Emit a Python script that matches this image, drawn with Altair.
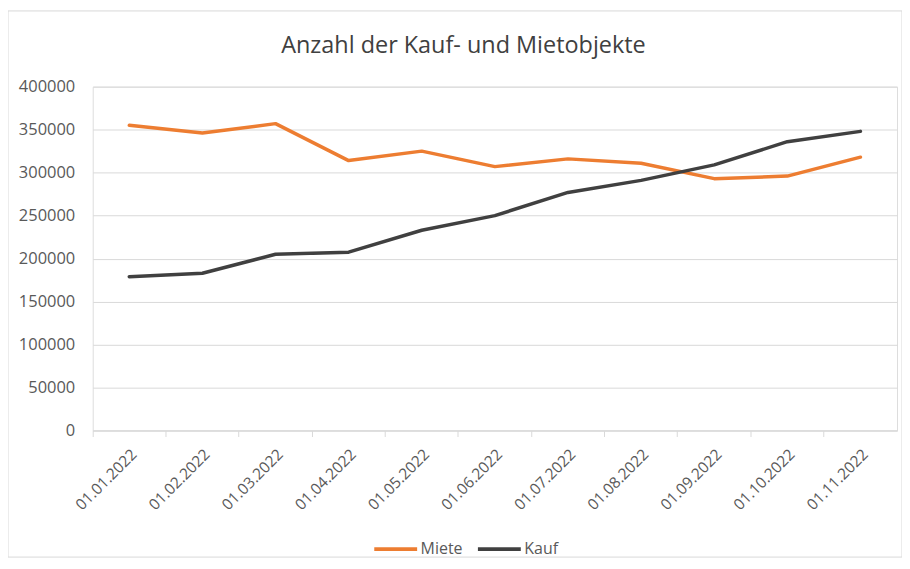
import altair as alt
import pandas as pd

dates = ["01.01.2022", "01.02.2022", "01.03.2022", "01.04.2022", "01.05.2022",
         "01.06.2022", "01.07.2022", "01.08.2022", "01.09.2022", "01.10.2022",
         "01.11.2022"]
miete = [355000, 346000, 357000, 314000, 325000, 307000, 316000, 311000, 293000, 296000, 318000]
kauf = [179000, 183000, 205000, 207500, 233000, 250000, 277000, 291000, 309000, 336000, 348000]
series = ["Miete", "Kauf"]
colors = ["#ED7D31", "#404040"]
title_text = "Anzahl der Kauf- und Mietobjekte"

rows = []
for s, vals in zip(series, [miete, kauf]):
    for d, v in zip(dates, vals):
        rows.append({"Datum": d, "Serie": s, "Wert": v})
df = pd.DataFrame(rows)

FONT = "Open Sans"
W, H = 807, 345

xscale = alt.Scale(type="band", paddingInner=0, paddingOuter=0)

frame = alt.Chart(pd.DataFrame({"a": [0]})).mark_rect(
    fill=None, stroke="#d9d9d9", strokeWidth=1
).encode(
    x=alt.value(-85), x2=alt.value(812), y=alt.value(-76), y2=alt.value(472)
)

title = alt.Chart(pd.DataFrame({"t": [title_text]})).mark_text(
    fontSize=23.5, font=FONT, color="#404040", align="center", baseline="middle"
).encode(text="t:N", x=alt.value(372), y=alt.value(-41))

ticks_layer = alt.Chart(df).mark_line(opacity=0).encode(
    x=alt.X("Datum:N", sort=dates, scale=xscale, bandPosition=0.5,
            axis=alt.Axis(title=None, labels=False, ticks=True, tickSize=6,
                          tickColor="#d9d9d9", domain=True, domainColor="#d9d9d9",
                          bandPosition=0, grid=False, orient="bottom")),
    y=alt.Y("Wert:Q"),
)

lines = alt.Chart(df).mark_line(strokeWidth=3.5, strokeCap="round", strokeJoin="round").encode(
    x=alt.X("Datum:N", sort=dates, scale=xscale, bandPosition=0.5,
            axis=alt.Axis(title=None, labelAngle=-45, labelFontSize=15.5, labelColor="#595959",
                          labelFont=FONT, ticks=False, domain=False, grid=False,
                          labelPadding=16, orient="bottom")),
    y=alt.Y("Wert:Q", scale=alt.Scale(domain=[0, 400000]),
            axis=alt.Axis(title=None, values=list(range(0, 400001, 50000)), format="d",
                          labelFontSize=16.5, labelColor="#595959", labelFont=FONT,
                          ticks=False, domain=False, grid=True, gridColor="#d9d9d9",
                          labelPadding=18)),
    color=alt.Color("Serie:N", scale=alt.Scale(domain=series, range=colors),
                    legend=alt.Legend(title=None, orient="none", direction="horizontal",
                                      legendX=280, legendY=440, symbolType="stroke",
                                      symbolStrokeWidth=4, symbolSize=1850,
                                      labelFontSize=16, labelColor="#595959", labelFont=FONT,
                                      columnPadding=6, labelOffset=1, padding=0)),
)

chart = alt.layer(frame, title, ticks_layer, lines).resolve_axis(x="independent").properties(
    width=W, height=H,
    autosize=alt.AutoSizeParams(type="none"),
    padding={"left": 85, "top": 78, "right": 5, "bottom": 135},
).configure_view(stroke=None).configure(background="white")

chart.save("out.html", embed_options={"renderer": "svg", "actions": False})
